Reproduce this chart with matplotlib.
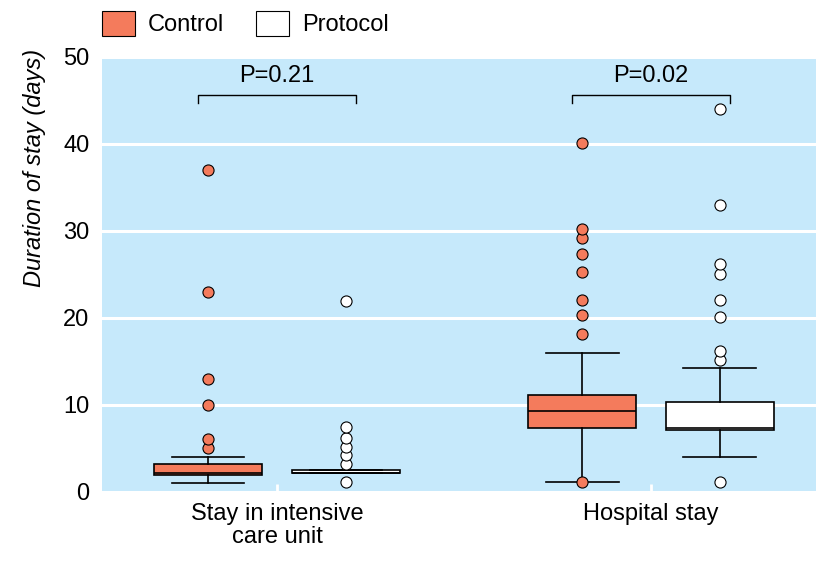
import matplotlib
matplotlib.use("Agg")
import matplotlib.pyplot as plt
from matplotlib.patches import Patch
from matplotlib import font_manager

fams = {f.name for f in font_manager.fontManager.ttflist}
FONT = ['Liberation Sans Narrow', 'DejaVu Sans'] if 'Liberation Sans Narrow' in fams else ['Liberation Sans', 'DejaVu Sans']
plt.rcParams['font.family'] = FONT

# ---- data ----
categories = ["Stay in intensive\ncare unit", "Hospital stay"]
groups = ["Control", "Protocol"]
p_values = ["P=0.21", "P=0.02"]

# box statistics: [ICU, Hospital]
control_q1 = [2.0, 7.3]
control_med = [2.2, 9.3]
control_q3 = [3.2, 11.1]
control_whislo = [1.0, 1.2]
control_whishi = [4.0, 16.0]
control_fliers = [[5.1, 6.1, 10.0, 13.0, 23.0, 37.0],
                  [1.2, 18.2, 20.3, 22.1, 25.3, 27.3, 29.2, 30.2, 40.1]]

protocol_q1 = [2.2, 7.1]
protocol_med = [2.2, 7.3]
protocol_q3 = [2.5, 10.3]
protocol_whislo = [2.2, 4.0]
protocol_whishi = [2.5, 14.2]
protocol_fliers = [[1.2, 3.2, 4.2, 5.2, 6.2, 7.5, 22.0],
                   [1.2, 15.2, 16.2, 20.1, 22.1, 25.1, 26.2, 33.0, 44.0]]

yticks = [0, 10, 20, 30, 40, 50]

# ---- style ----
BG = "#C6E9FB"
CTRL = "#F47B5C"
PROT = "#FFFFFF"
FS = 17

fig = plt.figure(figsize=(8.29, 5.61), dpi=100)
ax = fig.add_axes([102/829, 1-492/561, 714/829, 435/561])
ax.set_facecolor(BG)

group_centers = [1.75, 5.49]
offset = 0.69
box_w = 1.08
cap_w = 0.73


def make_stats(q1, med, q3, lo, hi, fl):
    return [dict(q1=q1[i], med=med[i], q3=q3[i], whislo=lo[i], whishi=hi[i], fliers=fl[i])
            for i in range(len(q1))]


series = [
    (make_stats(control_q1, control_med, control_q3, control_whislo, control_whishi, control_fliers), CTRL, -offset),
    (make_stats(protocol_q1, protocol_med, protocol_q3, protocol_whislo, protocol_whishi, protocol_fliers), PROT, offset),
]

lw = 1.2
for stats, col, off in series:
    ax.bxp(stats, positions=[c + off for c in group_centers], widths=box_w,
           patch_artist=True, showfliers=True, manage_ticks=False,
           boxprops=dict(facecolor=col, edgecolor='black', linewidth=lw),
           medianprops=dict(color='black', linewidth=lw),
           whiskerprops=dict(color='black', linewidth=lw),
           capprops=dict(color='black', linewidth=lw),
           capwidths=cap_w,
           flierprops=dict(marker='o', markerfacecolor=col, markeredgecolor='black',
                           markersize=8, markeredgewidth=0.8, linestyle='none'),
           zorder=3)

ax.set_xlim(0, 7.14)
ax.set_ylim(0, 50)
ax.set_yticks(yticks)
ax.set_yticklabels([str(v) for v in yticks], fontsize=FS)
ax.set_xticks(group_centers)
ax.set_xticklabels(categories, fontsize=FS, linespacing=1.05)
ax.tick_params(axis='x', direction='in', color='white', length=6, width=2, pad=8)
ax.tick_params(axis='y', length=0, pad=9)
for s in ax.spines.values():
    s.set_visible(False)
ax.yaxis.grid(True, color='white', linewidth=2.2)
ax.set_axisbelow(True)

ax.set_ylabel("Duration of stay (days)", fontsize=FS, style='italic')
ax.yaxis.set_label_coords(-0.078, 0.745)

# significance brackets
for c, p in zip(group_centers, p_values):
    x0, x1 = c - offset - 0.1, c + offset + 0.1
    ax.plot([x0, x0, x1, x1], [44.7, 45.6, 45.6, 44.7], color='black', linewidth=1.0, zorder=4)
    ax.text(c, 46.5, p, ha='center', va='bottom', fontsize=FS)

# legend
handles = [Patch(facecolor=CTRL, edgecolor='black', linewidth=0.8, label=groups[0]),
           Patch(facecolor=PROT, edgecolor='black', linewidth=0.8, label=groups[1])]
fig.legend(handles=handles, loc='upper left', bbox_to_anchor=(88/829, 1.005), ncol=2,
           frameon=False, fontsize=FS, handlelength=1.4, handleheight=1.2,
           columnspacing=1.35, handletextpad=0.55, borderaxespad=0.2)

fig.savefig("out.png", dpi=100)
